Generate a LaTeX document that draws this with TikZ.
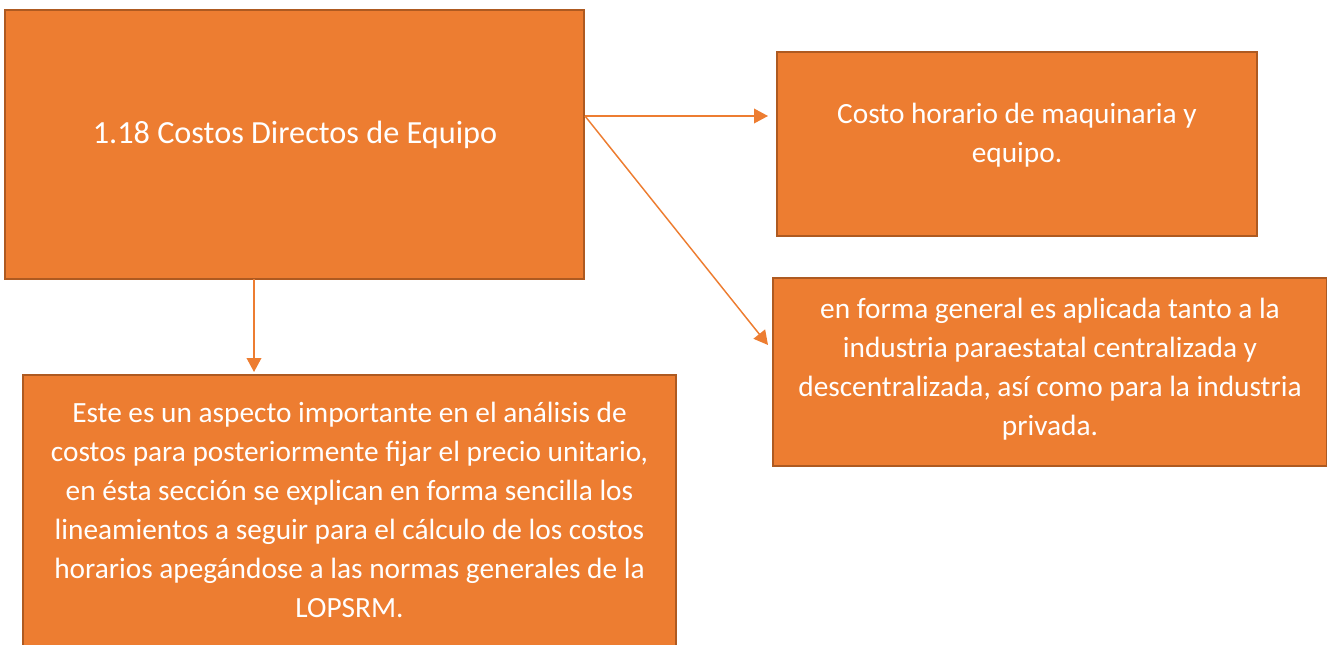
\documentclass[tikz,border=0pt]{standalone}
\usepackage{fontspec}
\setmainfont{Carlito}
\usetikzlibrary{arrows.meta}
\definecolor{boxfill}{HTML}{ED7D31}
\definecolor{boxline}{HTML}{AE5A21}
\begin{document}
\begin{tikzpicture}[x=0.75pt,y=-0.75pt]
        \useasboundingbox (0,0) rectangle (1327,645);

        \begin{scope}[every node/.style={rectangle,draw=boxline,fill=boxfill,line width=1.5pt,inner sep=0pt}]
          \node[minimum width=434.25pt,minimum height=201.75pt] (1) at (294.5,144.5) {};
          \node[minimum width=360pt,minimum height=138pt] (2) at (1017,144) {};
          \node[minimum width=415.5pt,minimum height=141pt] (3) at (1050,372) {};
          \node[minimum width=489.75pt,minimum height=228.75pt] (4) at (349.5,527.5) {};
        \end{scope}

        \begin{scope}[every node/.style={text=white,align=center,font=\fontsize{22pt}{29.25pt}\selectfont}]
          \node[font=\fontsize{24.2pt}{29.25pt}\selectfont] (t1) at (295,135) {1.18 Costos Directos de Equipo};
          \node (t2) at (1017,135.5) {Costo horario de maquinaria y\\equipo.};
          \node (t3) at (1050,369) {en forma general es aplicada tanto a la\\industria paraestatal centralizada y\\descentralizada, así como para la industria\\privada.};
          \node (t4) at (349.5,510) {Este es un aspecto importante en el análisis de\\costos para posteriormente fijar el precio unitario,\\en ésta sección se explican en forma sencilla los\\lineamientos a seguir para el cálculo de los costos\\horarios apegándose a las normas generales de la\\LOPSRM.};
        \end{scope}

        \coordinate (s) at (585,116);
        \coordinate (e2) at (768,116);
        \coordinate (e3) at (768,345);
        \coordinate (d1) at (254,279);
        \coordinate (e4) at (254,372);

        \begin{scope}[every edge/.style={draw=boxfill,line width=1.1pt,-{Triangle[length=10.5pt,width=11pt]}}]
          \path (s)  edge (e2);
          \path (s)  edge (e3);
          \path (d1) edge (e4);
        \end{scope}

      \end{tikzpicture}
\end{document}
